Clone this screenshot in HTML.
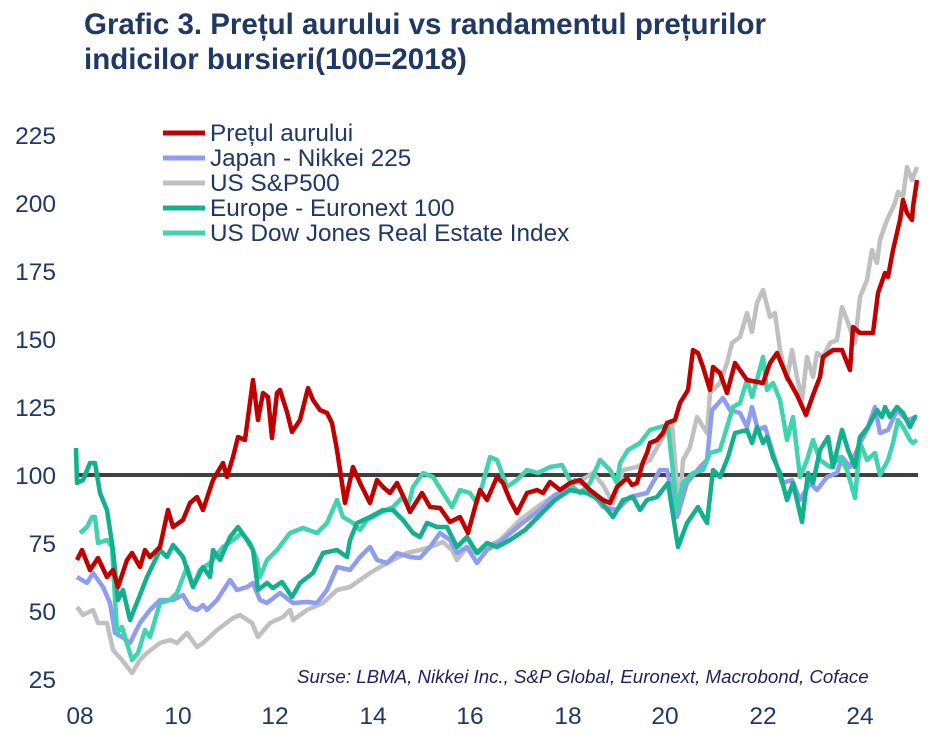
<!DOCTYPE html>
<html><head><meta charset="utf-8"><style>
body{margin:0;background:#fff;}
svg{display:block;font-family:"Liberation Sans",sans-serif;}
</style></head><body>
<svg width="948" height="741" viewBox="0 0 948 741">
<text x="84" y="34" font-size="29.5" font-weight="bold" fill="#1f3864">Grafic 3. Prețul aurului vs randamentul prețurilor</text>
<text x="84" y="69" font-size="29.5" font-weight="bold" fill="#1f3864">indicilor bursieri(100=2018)</text>
<g font-size="24.5" fill="#1f3864" text-anchor="end">
<text x="56" y="144">225</text><text x="56" y="212">200</text><text x="56" y="280">175</text><text x="56" y="348">150</text><text x="56" y="416">125</text><text x="56" y="484">100</text><text x="56" y="552">75</text><text x="56" y="620">50</text><text x="56" y="688">25</text>
</g>
<g font-size="24.5" fill="#1f3864" text-anchor="middle">
<text x="80" y="724">08</text><text x="178" y="724">10</text><text x="275" y="724">12</text><text x="373" y="724">14</text><text x="470" y="724">16</text><text x="568" y="724">18</text><text x="665" y="724">20</text><text x="763" y="724">22</text><text x="860" y="724">24</text>
</g>
<line x1="75" y1="475" x2="918" y2="475" stroke="#404040" stroke-width="4"/>
<g fill="none" stroke-width="4.5" stroke-linejoin="round">
<polyline stroke="#c0c0c0" points="77,607 83,615 93,610 98,623 107,623 113,650 122,660 132,673 140,660 147,653 160,643 170,640 177,643 187,633 197,647 203,643 217,630 233,618 240,615 252,623 258,637 270,623 283,617 290,610 293,620 307,610 323,603 337,590 350,587 360,580 370,573 380,567 393,560 407,553 420,550 430,547 443,542 452,550 457,560 467,547 477,553 487,547 500,540 520,520 540,505 555,495 565,490 575,483 585,478 593,473 603,485 613,503 623,470 637,467 650,460 663,437 672,423 679,513 683,460 690,447 697,417 707,433 710,393 720,383 727,363 732,343 740,337 747,313 752,332 757,303 763,290 770,317 775,313 780,350 787,380 792,350 797,377 802,400 807,357 813,377 817,353 823,357 830,343 837,340 842,307 847,320 855,343 860,297 867,280 872,250 877,263 880,240 887,220 895,203 898,192 903,197 907,167 912,180 917,167"/>
<polyline stroke="#8f9cf0" points="77,577 87,583 93,573 103,587 110,603 115,633 122,637 130,643 140,623 150,610 160,600 173,600 183,595 190,607 197,610 203,605 207,610 217,600 230,580 237,590 247,587 253,583 260,600 267,603 280,593 293,603 307,602 317,603 327,590 337,567 350,570 360,557 370,547 377,560 387,563 397,553 410,557 420,558 430,547 440,533 450,540 457,553 467,547 477,563 487,550 500,542 520,525 540,510 555,495 565,490 575,480 585,485 603,507 617,510 630,497 647,493 660,470 667,470 677,517 687,483 700,467 707,460 712,410 715,407 723,398 730,410 740,413 747,427 752,407 758,430 765,427 773,453 782,483 792,480 800,500 810,483 817,490 827,477 837,473 842,457 850,467 860,443 867,430 875,407 880,433 888,430 897,410 907,420 917,417"/>
<polyline stroke="#3fd3ae" points="80,533 87,527 92,517 95,517 98,543 107,540 112,547 117,633 122,627 132,660 138,653 145,630 150,637 160,603 170,600 177,593 187,567 193,587 200,570 210,563 223,547 233,540 242,533 250,543 257,560 260,577 267,560 277,550 290,533 303,528 317,533 327,523 337,500 343,517 353,523 360,530 367,520 380,513 393,507 403,497 408,507 413,487 423,473 433,477 443,493 452,507 460,490 470,493 477,503 483,483 490,457 497,460 507,487 517,480 527,470 538,473 550,467 562,465 573,487 580,493 590,483 600,460 610,470 617,483 620,463 628,450 640,443 650,430 660,427 668,425 677,510 683,483 693,473 703,470 710,453 720,450 727,427 733,407 740,403 747,380 752,397 757,380 763,357 767,390 773,383 780,400 787,440 793,417 800,477 807,460 813,440 820,460 830,467 840,457 847,470 855,498 860,443 867,460 875,453 880,475 888,460 893,443 898,420 903,427 910,440 913,443 917,440"/>
<polyline stroke="#12b08c" points="76,448 77,483 83,480 90,463 95,463 100,493 107,510 113,550 118,600 123,590 130,620 138,600 147,577 160,550 167,557 173,545 183,557 193,587 203,567 210,577 213,550 220,560 230,537 238,527 247,540 253,550 258,590 267,583 273,588 282,582 292,597 300,583 313,573 323,553 337,550 347,557 350,540 357,523 370,517 383,510 393,510 403,520 413,533 420,537 427,523 437,527 447,527 457,547 467,537 477,553 487,543 497,547 510,540 525,530 540,515 555,500 570,490 587,493 600,500 613,517 623,500 633,497 640,510 647,500 657,497 668,483 678,547 687,523 698,507 707,523 713,470 720,477 728,457 735,433 747,430 752,443 757,427 763,443 767,437 773,457 780,473 787,500 793,483 802,522 808,473 813,483 820,450 828,437 833,467 842,430 848,450 855,467 860,437 868,427 877,410 882,417 885,407 890,417 897,407 903,413 910,427 915,417 917,417"/>
<polyline stroke="#c00000" points="77,560 82,550 90,570 98,558 107,577 113,570 118,587 127,560 132,553 140,567 145,550 150,557 160,547 168,510 173,527 183,520 190,503 197,497 203,510 213,480 223,463 227,477 233,457 238,437 245,440 253,380 258,420 263,393 268,397 272,438 277,393 280,390 287,412 292,432 300,420 308,388 313,400 320,410 327,413 332,423 337,450 345,503 353,467 360,483 370,503 377,480 383,487 390,493 397,483 405,500 410,512 422,493 430,507 440,508 450,522 460,517 468,533 477,500 480,490 487,500 497,477 503,483 510,500 517,513 527,493 537,490 543,493 550,482 560,490 570,483 580,480 590,490 603,500 610,503 617,487 627,478 632,485 637,483 643,462 647,453 650,443 657,440 663,433 667,423 675,420 680,403 688,390 693,350 698,353 703,367 710,390 713,367 720,373 727,393 735,363 747,380 763,383 770,363 777,353 787,377 797,395 806,415 813,395 820,377 823,357 833,350 842,350 850,370 853,327 860,333 873,333 878,293 885,273 888,277 893,250 900,220 903,200 907,213 912,220 913,207 917,180"/>
</g>
<g stroke-width="5">
<line x1="163" y1="133" x2="205" y2="133" stroke="#c00000"/>
<line x1="163" y1="158" x2="205" y2="158" stroke="#8f9cf0"/>
<line x1="163" y1="183" x2="205" y2="183" stroke="#c0c0c0"/>
<line x1="163" y1="208" x2="205" y2="208" stroke="#12b08c"/>
<line x1="163" y1="233" x2="205" y2="233" stroke="#3fd3ae"/>
</g>
<g font-size="24.3" fill="#1f3864">
<text x="210" y="141">Prețul aurului</text>
<text x="210" y="166">Japan - Nikkei 225</text>
<text x="210" y="191">US S&amp;P500</text>
<text x="210" y="216">Europe - Euronext 100</text>
<text x="210" y="241">US Dow Jones Real Estate Index</text>
</g>
<text x="297" y="683" font-size="18.7" font-style="italic" fill="#1f1f5f">Surse: LBMA, Nikkei Inc., S&amp;P Global, Euronext, Macrobond, Coface</text>
</svg>
</body></html>
